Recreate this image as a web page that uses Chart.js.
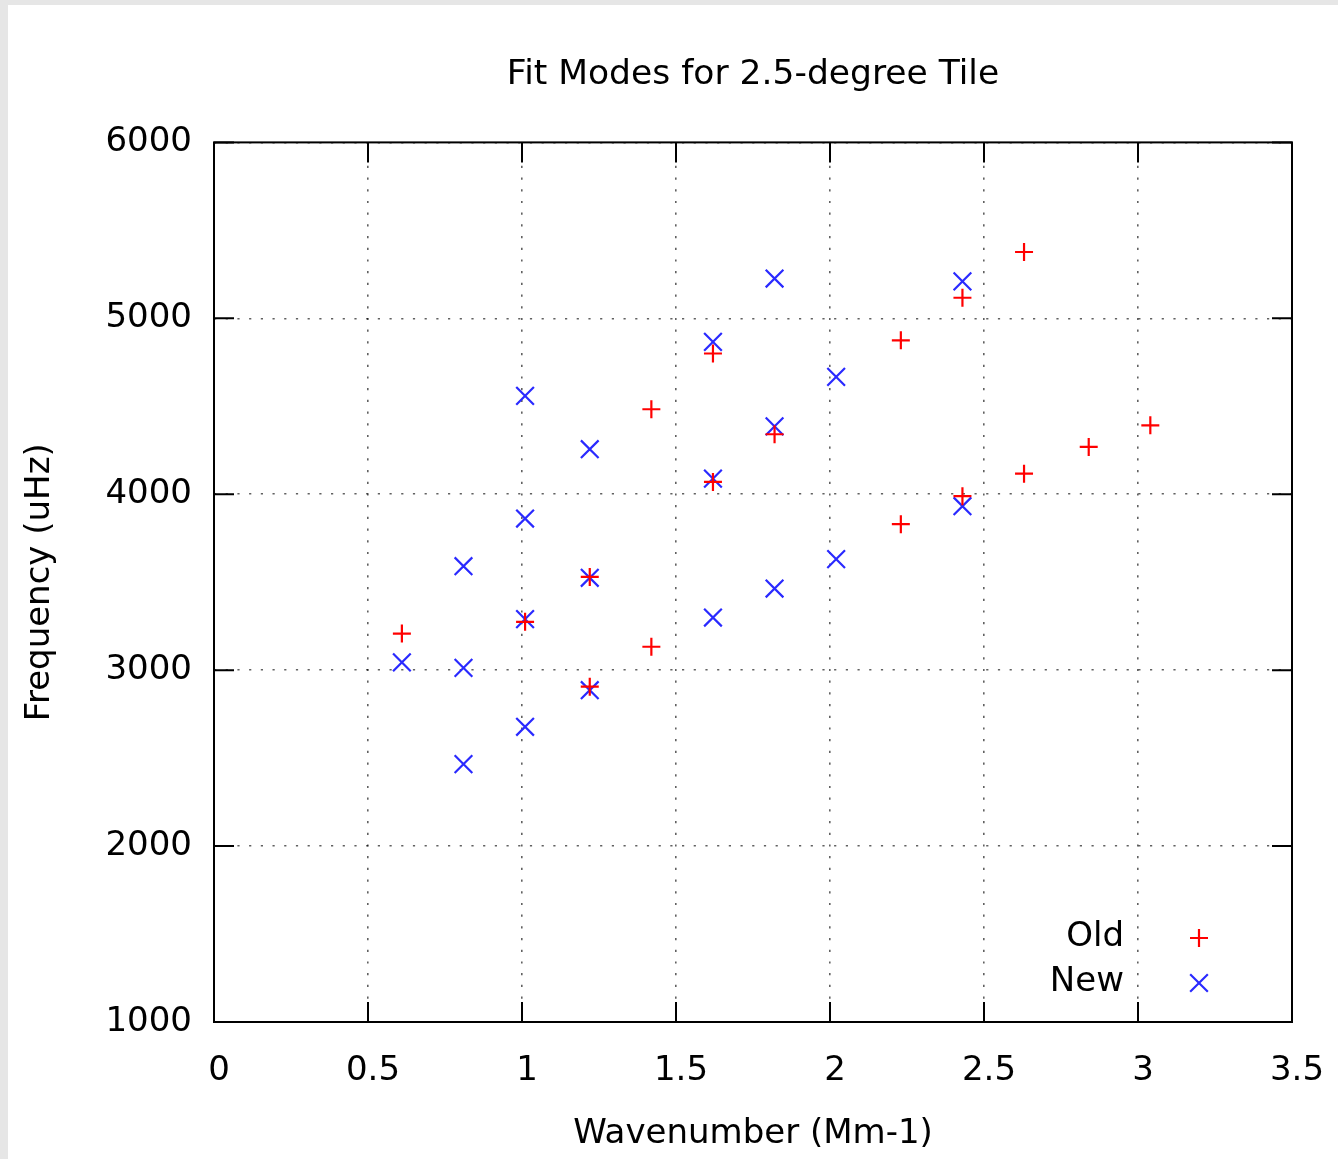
<!DOCTYPE html>
<html>
<head>
<meta charset="utf-8">
<title>Fit Modes for 2.5-degree Tile</title>
<script src="https://cdn.jsdelivr.net/npm/chart.js@4.4.1/dist/chart.umd.min.js"></script>
<style>
  html, body { margin: 0; padding: 0; background: #fff; }
  #wrap { width: 1338px; height: 1159px; }
</style>
</head>
<body>
<div id="wrap"><canvas id="chart" width="1338" height="1159"></canvas></div>
<script>
/* Mode data: wavenumber (Mm-1) vs frequency (uHz) */
const oldK    = [0.61, 1.01, 1.22, 1.22, 1.42, 1.42, 1.62, 1.62, 1.82, 2.23, 2.23, 2.43, 2.43, 2.63, 2.63, 2.84, 3.04];
const oldFreq = [3208, 3275, 3530, 2906, 4483, 3133, 4800, 4070, 4341, 4875, 3830, 5117, 3989, 5377, 4117, 4269, 4392];

const newK    = [0.61, 0.81, 0.81, 0.81, 1.01, 1.01, 1.01, 1.01, 1.22, 1.22, 1.22, 1.62, 1.62, 1.62, 1.82, 1.82, 1.82, 2.02, 2.02, 2.43, 2.43];
const newFreq = [3044, 3591, 3013, 2466, 4559, 3862, 3290, 2678, 4256, 3525, 2886, 4866, 4089, 3299, 5226, 4386, 3464, 4667, 3631, 5210, 3932];

const seriesNames = ["Old", "New"];
const xTicks = [0, 0.5, 1, 1.5, 2, 2.5, 3, 3.5];
const yTicks = [1000, 2000, 3000, 4000, 5000, 6000];

const FONT = "'DejaVu Sans', 'Liberation Sans', sans-serif";
const RED = "#ff0000";
const BLUE = "#2a2aff";
const GRID = "rgba(0,0,0,0.62)";

const toPoints = (xs, ys) => xs.map((x, i) => ({ x, y: ys[i] }));

/* ---------- little helpers ---------- */
function mark(ctx, style, r, x, y, color, w) {
  ctx.save();
  ctx.strokeStyle = color;
  ctx.lineWidth = w;
  ctx.beginPath();
  if (style === "cross") {
    ctx.moveTo(x - r, y); ctx.lineTo(x + r, y);
    ctx.moveTo(x, y - r); ctx.lineTo(x, y + r);
  } else {
    const d = r * Math.SQRT1_2;
    ctx.moveTo(x - d, y - d); ctx.lineTo(x + d, y + d);
    ctx.moveTo(x - d, y + d); ctx.lineTo(x + d, y - d);
  }
  ctx.stroke();
  ctx.restore();
}

/* gnuplot-ish page: gray strip on left/top, box with inward tics */
const framePlugin = {
  id: "frame",
  beforeDraw(chart) {
    const ctx = chart.ctx;
    ctx.save();
    ctx.fillStyle = "#fff";
    ctx.fillRect(0, 0, chart.width, chart.height);
    ctx.fillStyle = "#e6e6e6";
    ctx.fillRect(0, 0, 8, chart.height);
    ctx.fillRect(0, 0, chart.width, 5);
    ctx.restore();
  },
  beforeDatasetsDraw(chart) {
    const { ctx, chartArea: { left, right, top, bottom } } = chart;
    const xs = chart.scales.x, ys = chart.scales.y;
    const T = 20;
    ctx.save();
    ctx.strokeStyle = "#000";
    ctx.lineWidth = 2;
    ctx.beginPath();
    xTicks.forEach(v => {
      const px = xs.getPixelForValue(v);
      ctx.moveTo(px, bottom); ctx.lineTo(px, bottom - T);
      ctx.moveTo(px, top); ctx.lineTo(px, top + T);
    });
    yTicks.forEach(v => {
      const py = ys.getPixelForValue(v);
      ctx.moveTo(left, py); ctx.lineTo(left + T, py);
      ctx.moveTo(right, py); ctx.lineTo(right - T, py);
    });
    ctx.stroke();
    ctx.strokeRect(left, top, right - left, bottom - top);
    ctx.restore();
  }
};

/* key in the lower right corner: label, then symbol */
const keyPlugin = {
  id: "key",
  afterDatasetsDraw(chart) {
    const { ctx, chartArea: { right, bottom } } = chart;
    ctx.save();
    ctx.font = "34px " + FONT;
    ctx.fillStyle = "#000";
    ctx.textAlign = "right";
    ctx.textBaseline = "middle";
    chart.data.datasets.forEach((ds, i) => {
      const y = bottom - 85 + i * 45;
      ctx.fillText(ds.label, right - 168, y);
      mark(ctx, ds.pointStyle, ds.pointRadius, right - 93, y + 1, ds.borderColor, ds.borderWidth);
    });
    ctx.restore();
  }
};

const tickFont = { family: FONT, size: 34, weight: "normal", lineHeight: 1.2 };
const titleFont = { family: FONT, size: 34.5, weight: "normal", lineHeight: 1.2 };

new Chart(document.getElementById("chart"), {
  type: "scatter",
  data: {
    datasets: [
      {
        label: seriesNames[0],
        data: toPoints(oldK, oldFreq),
        pointStyle: "cross",
        pointRadius: 9,
        borderColor: RED,
        backgroundColor: RED,
        borderWidth: 2.2
      },
      {
        label: seriesNames[1],
        data: toPoints(newK, newFreq),
        pointStyle: "crossRot",
        pointRadius: 12.5,
        borderColor: BLUE,
        backgroundColor: BLUE,
        borderWidth: 2.2
      }
    ]
  },
  options: {
    responsive: false,
    animation: false,
    devicePixelRatio: 1,
    events: [],
    layout: { padding: { top: 5, left: 8, right: 46, bottom: 0 } },
    plugins: {
      legend: { display: false },
      tooltip: { enabled: false },
      title: {
        display: true,
        fullSize: false,
        text: "Fit Modes for 2.5-degree Tile",
        color: "#000",
        font: titleFont,
        padding: { top: 49, bottom: 47 }
      }
    },
    scales: {
      x: {
        type: "linear",
        min: 0,
        max: 3.5,
        afterBuildTicks: s => { s.ticks = xTicks.map(v => ({ value: v })); },
        afterFit: s => { s.height = 137; s.paddingLeft = 0; s.paddingRight = 0; },
        grid: { color: GRID, lineWidth: 1.6, drawTicks: false },
        border: { display: false, dash: [2.2, 9.5] },
        ticks: {
          color: "#000", font: tickFont, padding: 29, labelOffset: 5,
          maxRotation: 0, autoSkip: false, callback: v => String(v)
        },
        title: {
          display: true, text: "Wavenumber (Mm-1)", color: "#000", font: tickFont,
          padding: { top: 0, bottom: 4 }
        }
      },
      y: {
        type: "linear",
        min: 1000,
        max: 6000,
        afterBuildTicks: s => { s.ticks = yTicks.map(v => ({ value: v })); },
        afterFit: s => { s.width = 206; s.paddingTop = 0; s.paddingBottom = 0; },
        grid: { color: GRID, lineWidth: 1.6, drawTicks: false },
        border: { display: false, dash: [2.2, 9.5] },
        ticks: { color: "#000", font: tickFont, padding: 22, callback: v => String(v) },
        title: {
          display: true, text: "Frequency (uHz)", color: "#000", font: tickFont,
          padding: { top: 12, bottom: 0 }
        }
      }
    }
  },
  plugins: [framePlugin, keyPlugin]
});
</script>
</body>
</html>
